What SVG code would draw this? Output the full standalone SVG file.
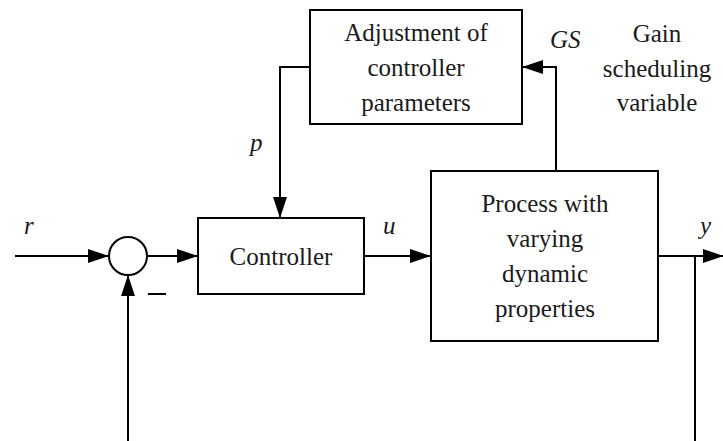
<svg xmlns="http://www.w3.org/2000/svg" width="723" height="441" viewBox="0 0 723 441">
<style>
.box{fill:#fff;stroke:#000;stroke-width:2}
.ln{fill:none;stroke:#000;stroke-width:2}
text{font-family:'Times New Roman','Liberation Serif',serif;font-size:25px;fill:#1a1a1a}
.c{text-anchor:middle}
.i{font-style:italic}
</style>
<defs>
<marker id="ah" markerUnits="userSpaceOnUse" markerWidth="22" markerHeight="14" refX="21" refY="7" orient="auto">
<path d="M0,0 L21,7 L0,14 Z" fill="#000"/>
</marker>
</defs>
<g id="connectors">
<line class="ln" x1="15" y1="256" x2="109" y2="256" marker-end="url(#ah)"/>
<line class="ln" x1="147" y1="256" x2="198" y2="256" marker-end="url(#ah)"/>
<line class="ln" x1="364" y1="256" x2="431" y2="256" marker-end="url(#ah)"/>
<line class="ln" x1="658" y1="256" x2="724" y2="256" marker-end="url(#ah)"/>
<polyline class="ln" points="695,256 695,441"/>
<line class="ln" x1="128" y1="441" x2="128" y2="275" marker-end="url(#ah)"/>
<polyline class="ln" points="310,67 280,67 280,218" marker-end="url(#ah)"/>
<polyline class="ln" points="556,171 556,67 522,67" marker-end="url(#ah)"/>
</g>
<g id="sum">
<circle class="box" cx="128" cy="256" r="19"/>
<line class="ln" x1="148" y1="294" x2="166" y2="294"/>
</g>
<g id="adjust">
<rect class="box" x="310" y="10" width="212" height="114"/>
<text class="c" x="416" y="41">Adjustment of</text>
<text class="c" x="416" y="76">controller</text>
<text class="c" x="416" y="111">parameters</text>
</g>
<g id="controller">
<rect class="box" x="198" y="218" width="166" height="76"/>
<text class="c" x="281" y="265">Controller</text>
</g>
<g id="process">
<rect class="box" x="431" y="171" width="227" height="170"/>
<text class="c" x="545" y="212">Process with</text>
<text class="c" x="545" y="247">varying</text>
<text class="c" x="545" y="282">dynamic</text>
<text class="c" x="545" y="317">properties</text>
</g>
<g id="labels">
<text class="i" x="24" y="234">r</text>
<text class="i" x="250" y="151">p</text>
<text class="i" x="383" y="234">u</text>
<text class="i" x="700" y="234">y</text>
<text class="i" x="550" y="48">GS</text>
<text class="c" x="657" y="42">Gain</text>
<text class="c" x="657" y="77">scheduling</text>
<text class="c" x="657" y="111">variable</text>
</g>
</svg>
